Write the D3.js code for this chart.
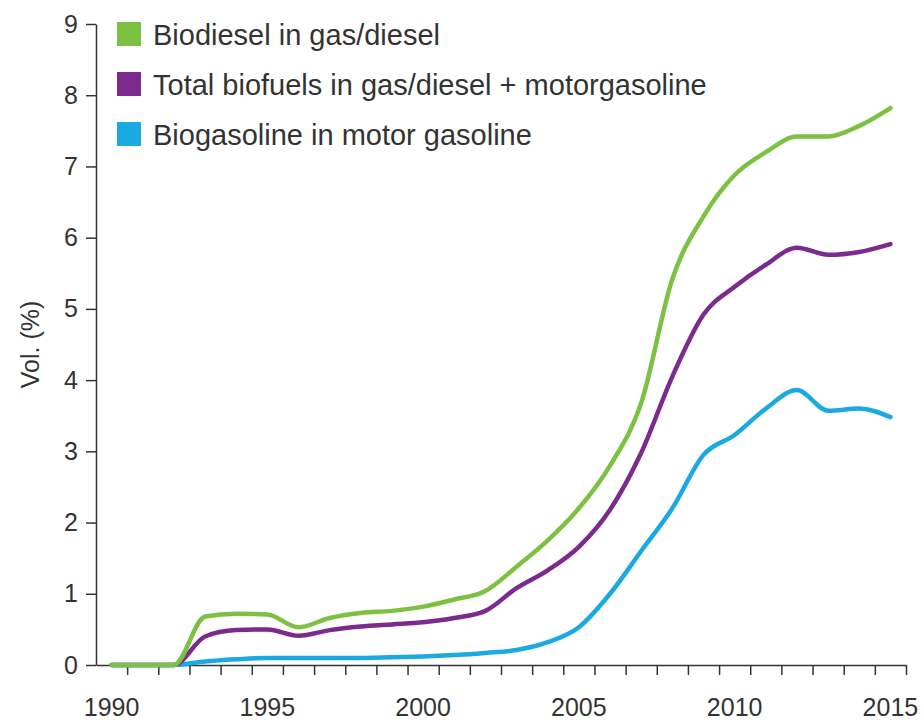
<!DOCTYPE html>
<meta charset="utf-8">
<style>
body { margin: 0; background: #fff; }
text { font-family: "Liberation Sans", Arial, sans-serif; fill: #333; }
.axis path, .axis line { stroke: #333; stroke-width: 1.5; }
.line { fill: none; stroke-width: 4.5; stroke-linejoin: round; stroke-linecap: round; }
</style>
<svg width="923" height="721"></svg>
<script src="https://d3js.org/d3.v7.min.js"></script>
<script>
var years = d3.range(1990, 2016);

// values, vol. %
var biodiesel = [0, 0, 0, 0.68, 0.72, 0.71, 0.53, 0.66, 0.73, 0.76, 0.82, 0.92, 1.04, 1.38, 1.75, 2.2,
                 2.8, 3.68, 5.42, 6.3, 6.88, 7.2, 7.42, 7.42, 7.57, 7.82];
var totalBio = [0, 0, 0, 0.4, 0.49, 0.5, 0.41, 0.49, 0.54, 0.57, 0.6, 0.66, 0.76, 1.08, 1.33, 1.66,
                2.18, 2.98, 4.05, 4.92, 5.31, 5.62, 5.86, 5.76, 5.8, 5.91];
var biogasoline = [0, 0, 0, 0.05, 0.08, 0.1, 0.1, 0.1, 0.1, 0.11, 0.12, 0.14, 0.17, 0.21, 0.32, 0.53,
                   1.0, 1.6, 2.2, 2.95, 3.23, 3.6, 3.86, 3.57, 3.6, 3.48];

var seriesNames = ["Biodiesel in gas/diesel", "Total biofuels in gas/diesel + motorgasoline", "Biogasoline in motor gasoline"];
var seriesColors = ["#7cc142", "#7b2a8e", "#1ba9e1"];
var seriesValues = [biodiesel, totalBio, biogasoline];

var yTicks = d3.range(0, 10);
var xLabels = [1990, 1995, 2000, 2005, 2010, 2015];

var svg = d3.select("svg");

var x = d3.scaleLinear().domain([1989.5, 2015.5]).range([96, 906]);
var y = d3.scaleLinear().domain([0, 9]).range([665, 24]);

// y axis
svg.append("g")
    .attr("class", "axis")
    .attr("transform", "translate(96,0)")
    .call(d3.axisLeft(y).tickValues(yTicks).tickSize(10).tickSizeOuter(0).tickPadding(8))
    .selectAll("text")
    .attr("font-size", 25)
    .style("font-family", "'Liberation Sans', Arial, sans-serif")
    .attr("fill", "#333");

// x axis: ticks on year boundaries, labels on years
svg.append("g")
    .attr("class", "axis")
    .attr("transform", "translate(0,665)")
    .call(d3.axisBottom(x).tickValues(d3.range(1990.5, 2016, 1)).tickSize(10).tickSizeOuter(0).tickFormat(""));

svg.append("g")
    .selectAll("text")
    .data(xLabels)
    .enter().append("text")
    .attr("x", function(d) { return x(d); })
    .attr("y", 716)
    .attr("text-anchor", "middle")
    .attr("font-size", 25)
    .text(function(d) { return d; });

// y axis title
svg.append("text")
    .attr("transform", "translate(39," + (y(4.5)) + ") rotate(-90)")
    .attr("text-anchor", "middle")
    .attr("font-size", 25)
    .text("Vol. (%)");

var line = d3.line()
    .x(function(d, i) { return x(years[i]); })
    .y(function(d) { return y(d); })
    .curve(d3.curveMonotoneX);

// draw blue first, green last
[2, 1, 0].forEach(function(k) {
  svg.append("path")
    .attr("class", "line")
    .attr("stroke", seriesColors[k])
    .attr("d", line(seriesValues[k]));
});

// legend
var legend = svg.append("g").selectAll("g")
    .data(seriesNames)
    .enter().append("g")
    .attr("transform", function(d, i) { return "translate(117," + (22 + i * 50) + ")"; });

legend.append("rect")
    .attr("width", 24)
    .attr("height", 24)
    .attr("fill", function(d, i) { return seriesColors[i]; });

legend.append("text")
    .attr("x", 36)
    .attr("y", 23)
    .attr("font-size", 29)
    .text(function(d) { return d; });
</script>
